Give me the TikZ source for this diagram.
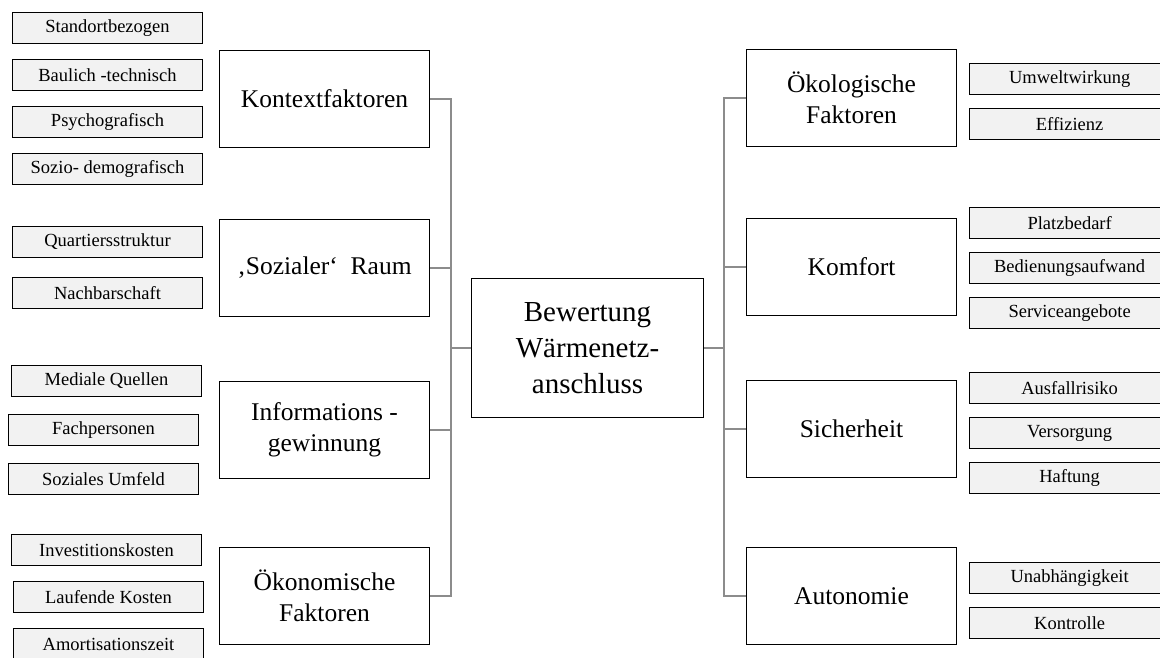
\documentclass[tikz,border=0pt]{standalone}
\usepackage{fontspec}
\setmainfont{Liberation Serif}
\usepackage{tikz}
\usetikzlibrary{positioning}
\tikzset{
  core/.style={draw, line width=1.3pt, align=center, minimum width=231.7pt, minimum height=138.7pt, font=\fontsize{29}{36}\selectfont},
  factor/.style={draw, line width=1.3pt, align=center, minimum width=209.7pt, minimum height=96.7pt, font=\fontsize{25.5}{31.5}\selectfont},
  item/.style={draw, line width=1.3pt, fill=black!5, align=center, minimum width=189.7pt, minimum height=30.7pt, inner sep=0pt, font=\fontsize{18.5}{22}\selectfont},
  link/.style={draw=black!45, line width=2pt}
}

\begin{document}
\begin{tikzpicture}
\useasboundingbox (0,0) rectangle (1160pt,-657pt);
\node[core] (bewertung) at (587.5pt,-348pt) {Bewertung\\Wärmenetz-\\anschluss};
\coordinate[left=20pt of bewertung.west] (lbus);
\coordinate[right=20pt of bewertung.east] (rbus);
% left side
\node[factor, left=41pt of bewertung, yshift=249pt] (kontext) {Kontextfaktoren};
\node[factor, below=71pt of kontext] (sozial) {‚Sozialer‘\ \ Raum};
\node[factor, below=64pt of sozial] (info) {Informations -\\gewinnung};
\node[factor, below=68pt of info] (oekon) {Ökonomische\\Faktoren};
\node[item, left=16pt of kontext, yshift=71pt] (standort) {Standortbezogen};
\node[item, below=15pt of standort] (baulich) {Baulich -technisch};
\node[item, below=15pt of baulich] (psycho) {Psychografisch};
\node[item, below=15pt of psycho] (sozio) {Sozio- demografisch};
\node[item, left=16pt of sozial, yshift=26pt] (quartier) {Quartiersstruktur};
\node[item, below=19pt of quartier] (nachbar) {Nachbarschaft};
\node[item, left=17pt of info, yshift=49pt] (medial) {Mediale Quellen};
\node[item, below=17pt of medial, xshift=-3pt] (fach) {Fachpersonen};
\node[item, below=17pt of fach] (umfeld) {Soziales Umfeld};
\node[item, left=17pt of oekon, yshift=46pt] (invest) {Investitionskosten};
\node[item, below=15pt of invest, xshift=2pt] (laufend) {Laufende Kosten};
\node[item, below=15pt of laufend] (amort) {Amortisationszeit};
% right side
\node[factor, right=42pt of bewertung, yshift=250pt] (oekol) {Ökologische\\Faktoren};
\node[factor, below=71pt of oekol] (komfort) {Komfort};
\node[factor, below=64pt of komfort] (sicher) {Sicherheit};
\node[factor, below=69pt of sicher] (autonom) {Autonomie};
\node[item, right=12pt of oekol, yshift=19pt, minimum width=200pt] (umwelt) {Umweltwirkung};
\node[item, below=13pt of umwelt, minimum width=200pt] (effizienz) {Effizienz};
\node[item, right=12pt of komfort, yshift=44pt, minimum width=200pt] (platz) {Platzbedarf};
\node[item, below=13pt of platz, minimum width=200pt] (bedienung) {Bedienungsaufwand};
\node[item, below=13pt of bedienung, minimum width=200pt] (service) {Serviceangebote};
\node[item, right=12pt of sicher, yshift=41pt, minimum width=200pt] (ausfall) {Ausfallrisiko};
\node[item, below=13pt of ausfall, minimum width=200pt] (versorgung) {Versorgung};
\node[item, below=13pt of versorgung, minimum width=200pt] (haftung) {Haftung};
\node[item, right=12pt of autonom, yshift=18pt, minimum width=200pt] (unabh) {Unabhängigkeit};
\node[item, below=13pt of unabh, minimum width=200pt] (kontrolle) {Kontrolle};
% connectors
\draw[link] (kontext.east) -| (lbus) -- (bewertung.west);
\draw[link] (oekon.east) -| (lbus);
\draw[link] (sozial.east) -- (sozial.east -| lbus);
\draw[link] (info.east) -- (info.east -| lbus);
\draw[link] (oekol.west) -| (rbus) -- (bewertung.east);
\draw[link] (autonom.west) -| (rbus);
\draw[link] (komfort.west) -- (komfort.west -| rbus);
\draw[link] (sicher.west) -- (sicher.west -| rbus);
\end{tikzpicture}
\end{document}
